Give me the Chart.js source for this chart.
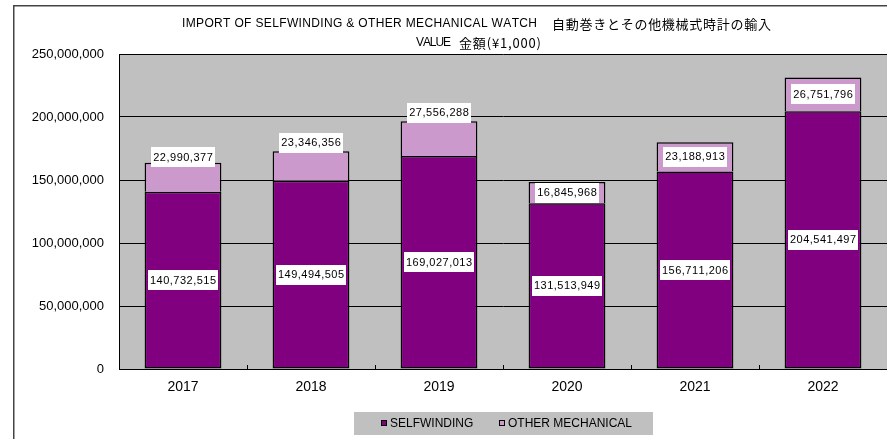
<!DOCTYPE html>
<html>
<head>
<meta charset="utf-8">
<script src="https://cdn.jsdelivr.net/npm/chart.js@4.4.1/dist/chart.umd.min.js"></script>
<style>
  html, body { margin: 0; padding: 0; background: #ffffff; }
  #wrap { width: 887px; height: 439px; position: relative; }
</style>
</head>
<body>
<div id="wrap"><canvas id="c" width="887" height="439"></canvas></div>
<script>
// ---- data ----
const categories = ['2017', '2018', '2019', '2020', '2021', '2022'];
const selfwinding = [140732515, 149494505, 169027013, 131513949, 156711206, 204541497];
const otherMechanical = [22990377, 23346356, 27556288, 16845968, 23188913, 26751796];
const seriesNames = ['SELFWINDING', 'OTHER MECHANICAL'];
const titleLatin = 'IMPORT OF SELFWINDING & OTHER MECHANICAL WATCH';
const titleJapanese = '自動巻きとその他機械式時計の輸入';
const subtitleLatin = 'VALUE';
const subtitleJapanese = '金額(¥1,000)';
const yMax = 250000000;
const yStep = 50000000;

// ---- style ----
const PURPLE = '#800080';
const LILAC = '#CC99CC';
const PLOT_BG = '#C0C0C0';
const LATIN_FONT = '"Liberation Sans", Arial, sans-serif';
const CJK_FONT = '"Noto Sans CJK JP", "Noto Sans", sans-serif';
// vertical lift (px) of the "other" value labels, as placed in the reference
const otherLabelLift = [20, 23, 26, 0, 0, 0];

function fmt(v) { return Math.round(v).toLocaleString('en-US'); }

function spacedWidth(ctx, text, spacing) {
  let w = 0;
  for (const ch of text) w += ctx.measureText(ch).width + spacing;
  return w - spacing;
}
function drawSpaced(ctx, text, x, y, spacing) {
  for (const ch of text) {
    ctx.fillText(ch, x, y);
    x += ctx.measureText(ch).width + spacing;
  }
}
function drawFitted(ctx, text, x0, x1, y) {
  const n = [...text].length;
  const natural = spacedWidth(ctx, text, 0);
  const spacing = n > 1 ? (x1 - x0 - natural) / (n - 1) : 0;
  drawSpaced(ctx, text, x0, y, spacing);
}

const framePlugin = {
  id: 'frame',
  beforeDraw(chart) {
    const { ctx, chartArea: a } = chart;
    ctx.save();
    ctx.fillStyle = '#ffffff';
    ctx.fillRect(0, 0, chart.width, chart.height);
    ctx.fillStyle = PLOT_BG;
    ctx.fillRect(a.left, a.top, a.right - a.left, a.bottom - a.top);
    ctx.strokeStyle = '#444444';
    ctx.lineWidth = 1.5;
    ctx.strokeRect(13.75, 5.75, 1000, 1000);
    ctx.restore();
  },
  afterDraw(chart) {
    const { ctx, chartArea: a } = chart;
    const xs = chart.scales.x;
    ctx.save();
    // inside tick marks between categories
    ctx.strokeStyle = '#000';
    ctx.lineWidth = 1;
    const n = categories.length;
    for (let i = 1; i < n; i++) {
      const xp = Math.round((xs.getPixelForValue(i - 1) + xs.getPixelForValue(i)) / 2) + 0.5;
      ctx.beginPath();
      ctx.moveTo(xp, a.bottom);
      ctx.lineTo(xp, a.bottom - 4);
      ctx.stroke();
    }
    // title
    ctx.fillStyle = '#000';
    ctx.textBaseline = 'middle';
    ctx.textAlign = 'left';
    ctx.font = '12px ' + LATIN_FONT;
    drawFitted(ctx, titleLatin, 182, 537, 24);
    ctx.font = '13px ' + CJK_FONT;
    drawFitted(ctx, titleJapanese, 552, 771, 24);
    ctx.font = '12px ' + LATIN_FONT;
    drawFitted(ctx, subtitleLatin, 416, 451, 43);
    ctx.font = '13px ' + CJK_FONT;
    drawFitted(ctx, subtitleJapanese, 459, 541, 43);
    // legend
    ctx.fillStyle = PLOT_BG;
    ctx.fillRect(354, 412, 299, 23);
    const items = [
      { sx: 381, tx: 390 },
      { sx: 499, tx: 508 }
    ];
    chart.data.datasets.forEach((ds, i) => {
      const it = items[i];
      ctx.fillStyle = ds.backgroundColor;
      ctx.fillRect(it.sx, 420, 6, 6);
      ctx.strokeStyle = '#000';
      ctx.lineWidth = 1;
      ctx.strokeRect(it.sx + 0.5, 420.5, 5, 5);
      ctx.fillStyle = '#000';
      ctx.font = '12px ' + LATIN_FONT;
      ctx.fillText(ds.label, it.tx, 424);
    });
    ctx.restore();
  }
};

const labelPlugin = {
  id: 'valueLabels',
  afterDatasetsDraw(chart) {
    const { ctx } = chart;
    ctx.save();
    ctx.font = '11px ' + LATIN_FONT;
    ctx.textBaseline = 'middle';
    ctx.textAlign = 'left';
    chart.data.datasets.forEach((ds, di) => {
      const meta = chart.getDatasetMeta(di);
      meta.data.forEach((el, i) => {
        const text = fmt(ds.data[i]);
        const spacing = 0.5;
        const w = spacedWidth(ctx, text, spacing);
        let cy = (el.y + el.base) / 2;
        if (di === 1) cy -= otherLabelLift[i];
        const bw = w + 4, bh = 20;
        ctx.fillStyle = '#ffffff';
        ctx.fillRect(Math.round(el.x - bw / 2), Math.round(cy - bh / 2), Math.round(bw), bh);
        ctx.fillStyle = '#000';
        drawSpaced(ctx, text, el.x - w / 2, cy + 0.5, spacing);
      });
    });
    ctx.restore();
  }
};

new Chart(document.getElementById('c'), {
  type: 'bar',
  data: {
    labels: categories,
    datasets: [
      {
        label: seriesNames[0],
        data: selfwinding,
        backgroundColor: PURPLE,
        borderColor: '#000',
        borderWidth: 1.5,
        borderSkipped: false
      },
      {
        label: seriesNames[1],
        data: otherMechanical,
        backgroundColor: LILAC,
        borderColor: '#000',
        borderWidth: 1.5,
        borderSkipped: 'bottom'
      }
    ]
  },
  options: {
    responsive: false,
    animation: false,
    layout: { padding: { left: 0, top: 54, right: 0, bottom: 0 } },
    plugins: {
      legend: { display: false },
      title: { display: false },
      tooltip: { enabled: false }
    },
    datasets: {
      bar: { barPercentage: 0.6, categoryPercentage: 1.0 }
    },
    scales: {
      x: {
        stacked: true,
        grid: { display: false, drawTicks: false },
        border: { display: true, color: '#000', width: 1 },
        ticks: { color: '#000', font: { size: 14, family: LATIN_FONT }, padding: 10 },
        afterFit(s) { s.height = 70; }
      },
      y: {
        stacked: true,
        min: 0,
        max: yMax,
        grid: { color: '#000', lineWidth: 1, drawTicks: false },
        border: { display: true, color: '#000', width: 1 },
        ticks: {
          stepSize: yStep,
          color: '#000',
          padding: 15,
          font: { size: 13, family: LATIN_FONT },
          callback: v => fmt(v)
        },
        afterFit(s) { s.width = 119; }
      }
    }
  },
  plugins: [framePlugin, labelPlugin]
});
</script>
</body>
</html>
